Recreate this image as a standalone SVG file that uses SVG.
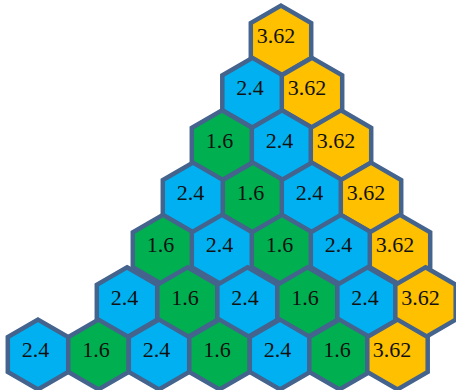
<svg xmlns="http://www.w3.org/2000/svg" xmlns:xlink="http://www.w3.org/1999/xlink" width="456" height="390" viewBox="0 0 456 390">
<style>
.hex{stroke:#44638D;stroke-width:4.5;stroke-linejoin:miter}
.o{fill:#FFC000}
.b{fill:#00B0F0}
.g{fill:#00B050}
text{font-family:"Liberation Serif","Times New Roman",serif;font-size:22px;fill:#111;text-anchor:middle}
</style>
<defs>
<polygon id="hx" points="0,-34.9 30.2,-17.45 30.2,17.45 0,34.9 -30.2,17.45 -30.2,-17.45"/>
</defs>
<rect width="456" height="390" fill="#fff"/>
<g id="connectors"/>
<g id="r1c1"><use xlink:href="#hx" class="hex o" x="281" y="40.5"/><text x="276" y="43">3.62</text></g>
<g id="r2c1"><use xlink:href="#hx" class="hex b" x="252.5" y="92.8"/><text x="250" y="95.3">2.4</text></g>
<g id="r2c2"><use xlink:href="#hx" class="hex o" x="312" y="92.8"/><text x="307" y="95.3">3.62</text></g>
<g id="r3c1"><use xlink:href="#hx" class="hex g" x="222" y="145.2"/><text x="219.5" y="147.7">1.6</text></g>
<g id="r3c2"><use xlink:href="#hx" class="hex b" x="282" y="145.2"/><text x="279.5" y="147.7">2.4</text></g>
<g id="r3c3"><use xlink:href="#hx" class="hex o" x="341" y="145.2"/><text x="336" y="147.7">3.62</text></g>
<g id="r4c1"><use xlink:href="#hx" class="hex b" x="193" y="197.5"/><text x="190.5" y="200">2.4</text></g>
<g id="r4c2"><use xlink:href="#hx" class="hex g" x="253" y="197.5"/><text x="250.5" y="200">1.6</text></g>
<g id="r4c3"><use xlink:href="#hx" class="hex b" x="312" y="197.5"/><text x="309.5" y="200">2.4</text></g>
<g id="r4c4"><use xlink:href="#hx" class="hex o" x="371" y="197.5"/><text x="366" y="200">3.62</text></g>
<g id="r5c1"><use xlink:href="#hx" class="hex g" x="163" y="249.8"/><text x="160.5" y="252.3">1.6</text></g>
<g id="r5c2"><use xlink:href="#hx" class="hex b" x="222" y="249.8"/><text x="219.5" y="252.3">2.4</text></g>
<g id="r5c3"><use xlink:href="#hx" class="hex g" x="282" y="249.8"/><text x="279.5" y="252.3">1.6</text></g>
<g id="r5c4"><use xlink:href="#hx" class="hex b" x="341" y="249.8"/><text x="338.5" y="252.3">2.4</text></g>
<g id="r5c5"><use xlink:href="#hx" class="hex o" x="400" y="249.8"/><text x="395" y="252.3">3.62</text></g>
<g id="r6c1"><use xlink:href="#hx" class="hex b" x="127" y="302.2"/><text x="124.5" y="304.7">2.4</text></g>
<g id="r6c2"><use xlink:href="#hx" class="hex g" x="187.5" y="302.2"/><text x="185" y="304.7">1.6</text></g>
<g id="r6c3"><use xlink:href="#hx" class="hex b" x="247.5" y="302.2"/><text x="245" y="304.7">2.4</text></g>
<g id="r6c4"><use xlink:href="#hx" class="hex g" x="307.5" y="302.2"/><text x="305" y="304.7">1.6</text></g>
<g id="r6c5"><use xlink:href="#hx" class="hex b" x="367.5" y="302.2"/><text x="365" y="304.7">2.4</text></g>
<g id="r6c6"><use xlink:href="#hx" class="hex o" x="425.5" y="302.2"/><text x="420.5" y="304.7">3.62</text></g>
<g id="r7c1"><use xlink:href="#hx" class="hex b" x="38" y="354.5"/><text x="35.5" y="357">2.4</text></g>
<g id="r7c2"><use xlink:href="#hx" class="hex g" x="98.5" y="354.5"/><text x="96" y="357">1.6</text></g>
<g id="r7c3"><use xlink:href="#hx" class="hex b" x="159" y="354.5"/><text x="156.5" y="357">2.4</text></g>
<g id="r7c4"><use xlink:href="#hx" class="hex g" x="219.5" y="354.5"/><text x="217" y="357">1.6</text></g>
<g id="r7c5"><use xlink:href="#hx" class="hex b" x="280" y="354.5"/><text x="277.5" y="357">2.4</text></g>
<g id="r7c6"><use xlink:href="#hx" class="hex g" x="339.5" y="354.5"/><text x="337" y="357">1.6</text></g>
<g id="r7c7"><use xlink:href="#hx" class="hex o" x="397.5" y="354.5"/><text x="392" y="357">3.62</text></g>
</svg>
